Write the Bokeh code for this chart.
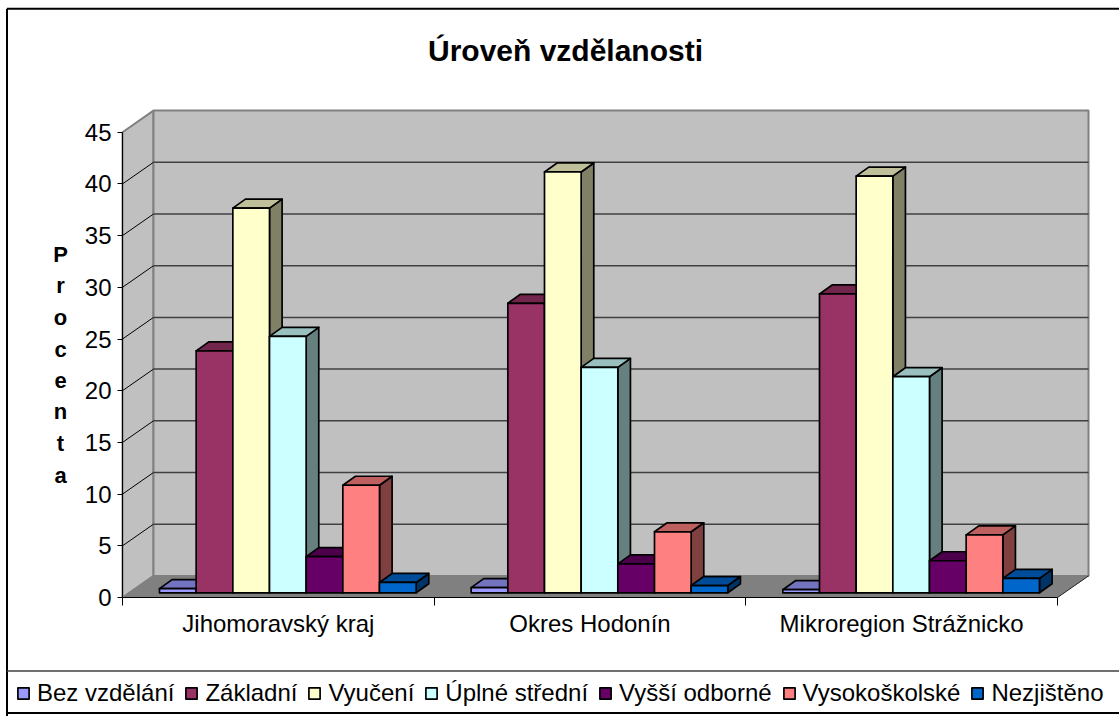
from bokeh.plotting import figure
from bokeh.models import (ColumnDataSource, FixedTicker, Label, Legend, LegendItem, LinearAxis, Range1d)
from bokeh.embed import file_html
from bokeh.resources import INLINE

title = "Úroveň vzdělanosti"
y_label = "Procenta"
categories = ["Jihomoravský kraj", "Okres Hodonín", "Mikroregion Strážnicko"]
bez_vzdelani = [0.4, 0.5, 0.3]
zakladni = [23.4, 28.0, 28.9]
vyuceni = [37.2, 40.7, 40.3]
uplne_stredni = [24.8, 21.8, 20.9]
vyssi_odborne = [3.5, 2.8, 3.1]
vysokoskolske = [10.4, 5.9, 5.6]
nezjisteno = [1.0, 0.7, 1.4]
series_names = ["Bez vzdělání", "Základní", "Vyučení", "Úplné střední",
                "Vyšší odborné", "Vysokoškolské", "Nezjištěno"]
series_values = [bez_vzdelani, zakladni, vyuceni, uplne_stredni,
                 vyssi_odborne, vysokoskolske, nezjisteno]
series_colors = ["#9999FF", "#993366", "#FFFFCC", "#CCFFFF", "#660066", "#FF8080", "#0066CC"]
y_ticks = [0, 5, 10, 15, 20, 25, 30, 35, 40, 45]

# page geometry (pixels in the window)
W, H = 1119, 716
AX_L, AX_B, AX_T = 122, 597, 131.7
AX_R = 1057
XPX = (AX_R - AX_L) / len(categories)
YPX = (AX_B - AX_T) / 45

def X(px):
    return (px - AX_L) / XPX
def Y(py):
    return (AX_B - py) / YPX

p = figure(width=W, height=H, output_backend="svg", toolbar_location=None,
           x_range=Range1d(X(0), X(W)), y_range=Range1d(Y(H), Y(0)),
           x_axis_type=None, y_axis_type=None,
           min_border=0, background_fill_color="white", border_fill_color="white",
           outline_line_color=None)
p.grid.visible = False

FONT = "Liberation Sans"
TICK_PT = "24px"

# depth of the 3-D box and of the bars, as data-space offsets
WALL_DX, WALL_DY = 31 / XPX, 21.6 / YPX
BAR_DX, BAR_DY = 12.6 / XPX, 9 / YPX
BAR_W = 1 / 8.5
BAR_START = 37 / XPX
BAR_BASE = 4.7 / YPX
top_val = 45
n = len(categories)

# chart area border and legend rules
p.line([X(6.5), X(6.5)], [Y(H), Y(8.3)], line_color="black", line_width=2)
p.line([X(6.5), X(W)], [Y(8.3), Y(8.3)], line_color="black", line_width=2)
p.line([X(6.5), X(W)], [Y(670.5), Y(670.5)], line_color="#404040", line_width=1.5)
p.line([X(6.5), X(W)], [Y(712.5), Y(712.5)], line_color="black", line_width=2)

# walls and floor
p.patches([[0, WALL_DX, WALL_DX, 0], [WALL_DX, n + WALL_DX, n + WALL_DX, WALL_DX]],
          [[0, WALL_DY, top_val + WALL_DY, top_val], [WALL_DY, WALL_DY, top_val + WALL_DY, top_val + WALL_DY]],
          fill_color="#C0C0C0", line_color="#808080", line_width=2)
p.patch([0, n, n + WALL_DX, WALL_DX], [0, 0, WALL_DY, WALL_DY], fill_color="#808080", line_color=None)
p.line([n, n + WALL_DX], [0, WALL_DY], line_color="#202020", line_width=1)

# gridlines on side wall and back wall
inner = [t for t in y_ticks if 0 < t < top_val]
p.multi_line([[0, WALL_DX] for t in inner], [[t, t + WALL_DY] for t in inner],
             line_color="black", line_width=1)
p.multi_line([[WALL_DX, n + WALL_DX] for t in inner], [[t + WALL_DY, t + WALL_DY] for t in inner],
             line_color="#404040", line_width=1.5)

def shade(hex_color, k):
    r, g, b = (int(hex_color[i:i + 2], 16) for i in (1, 3, 5))
    return "#%02X%02X%02X" % (round(r * k), round(g * k), round(b * k))

legend_items = []
for s, (name, vals, col) in enumerate(zip(series_names, series_values, series_colors)):
    xs, ys, fills = [], [], []
    for c, v in enumerate(vals):
        x0 = c + BAR_START + s * BAR_W
        x1 = x0 + BAR_W
        b, t = BAR_BASE, BAR_BASE + v
        xs.append([x1, x1 + BAR_DX, x1 + BAR_DX, x1])
        ys.append([b, b + BAR_DY, t + BAR_DY, t])
        fills.append(shade(col, 0.5))
        xs.append([x0, x1, x1 + BAR_DX, x0 + BAR_DX])
        ys.append([t, t, t + BAR_DY, t + BAR_DY])
        fills.append(shade(col, 0.75))
        xs.append([x0, x1, x1, x0])
        ys.append([b, b, t, t])
        fills.append(col)
    src = ColumnDataSource(dict(xs=xs, ys=ys, fill=fills))
    r = p.patches("xs", "ys", source=src, fill_color="fill", line_color="black",
                  line_width=1.7, line_join="round")
    legend_items.append(LegendItem(label=name, renderers=[r], index=2))

yax = LinearAxis(ticker=FixedTicker(ticks=y_ticks), bounds=(0, 45), fixed_location=0)
yax.axis_line_color = "black"
yax.axis_line_width = 1
yax.major_tick_line_color = "black"
yax.major_tick_out, yax.major_tick_in = 5, 0
yax.minor_tick_line_color = None
yax.major_label_text_font = FONT
yax.major_label_text_font_size = TICK_PT
yax.major_label_text_color = "black"
yax.major_label_standoff = 6
p.add_layout(yax, "left")

centers = [c + 0.5 for c in range(n)]
xax = LinearAxis(ticker=FixedTicker(ticks=centers, minor_ticks=list(range(n + 1))), bounds=(0, n),
                 fixed_location=0,
                 major_label_overrides={c: name for c, name in zip(centers, categories)})
xax.axis_line_color = "black"
xax.axis_line_width = 1
xax.major_tick_line_color = None
xax.major_tick_out, xax.major_tick_in = 0, 0
xax.minor_tick_line_color = "black"
xax.minor_tick_out, xax.minor_tick_in = 8, 0
xax.major_label_text_font = FONT
xax.major_label_text_font_size = TICK_PT
xax.major_label_text_color = "black"
xax.major_label_standoff = 4
p.add_layout(xax, "below")

# title
p.add_layout(Label(x=X(565), y=Y(50), text=title, text_align="center", text_baseline="middle",
                   text_font=FONT, text_font_style="bold", text_font_size="30px", text_color="black"))

# stacked axis title
letter_y = [254, 285, 317, 349, 380, 411, 443, 475]
for ch, py in zip(y_label, letter_y):
    p.add_layout(Label(x=X(60), y=Y(py), text=ch, text_align="center", text_baseline="middle",
                       text_font=FONT, text_font_style="bold", text_font_size="22px", text_color="black"))

legend = Legend(items=legend_items, orientation="horizontal", location=(16, H - 707),
                glyph_width=14, glyph_height=14, label_standoff=7, spacing=10, padding=0, margin=0,
                label_text_font=FONT, label_text_font_size="24px", label_text_color="black",
                label_height=22, background_fill_alpha=0, border_line_color=None)
p.add_layout(legend, "center")

open("out.html", "w").write(file_html(p, INLINE))
